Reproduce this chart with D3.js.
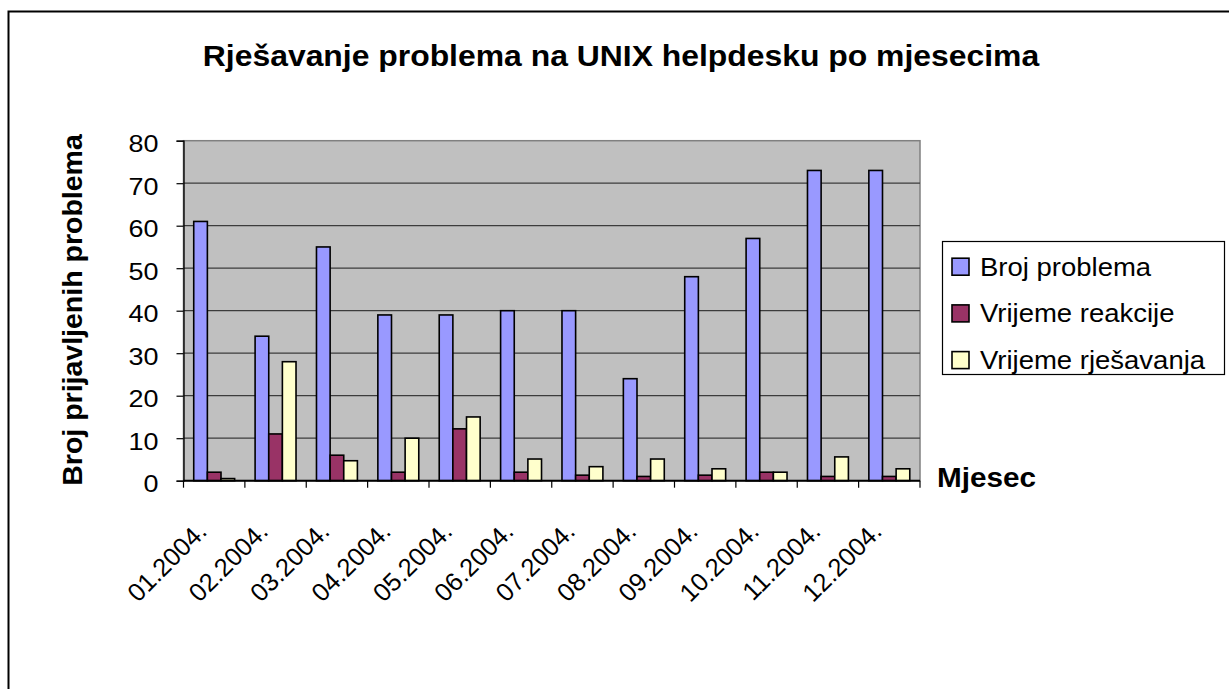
<!DOCTYPE html>
<html>
<head>
<meta charset="utf-8">
<script src="https://cdn.jsdelivr.net/npm/d3@7"></script>
<style>
  body { margin: 0; background: #fff; }
  text { font-family: "Liberation Sans", Arial, sans-serif; fill: #000; }
</style>
</head>
<body>
<svg id="chart" width="1229" height="689"></svg>
<script>
// data
var months = ["01.2004.", "02.2004.", "03.2004.", "04.2004.", "05.2004.", "06.2004.",
              "07.2004.", "08.2004.", "09.2004.", "10.2004.", "11.2004.", "12.2004."];
var seriesNames = ["Broj problema", "Vrijeme reakcije", "Vrijeme rješavanja"];
var brojProblema = [61, 34, 55, 39, 39, 40, 40, 24, 48, 57, 73, 73];
var vrijemeReakcije = [2, 11, 6, 2, 12.2, 2, 1.3, 1, 1.3, 2, 1, 1];
var vrijemeRjesavanja = [0.5, 28, 4.7, 10, 15, 5.1, 3.3, 5.1, 2.8, 2, 5.6, 2.8];
var yTicks = [0, 10, 20, 30, 40, 50, 60, 70, 80];
var colors = ["#9999ff", "#993366", "#ffffcc"];

var SX = 1.1; // text in the picture is a bit wider than Arial
var svg = d3.select("#chart");

// outer chart frame
svg.append("rect").attr("x", 8.5).attr("y", 11.5).attr("width", 1240).attr("height", 700)
   .attr("fill", "#fff").attr("stroke", "#000").attr("stroke-width", 2);

var plot = {left: 183.5, right: 920, top: 140.7, bottom: 480.7};

var x = d3.scaleBand().domain(months).range([plot.left, plot.right]).paddingInner(0).paddingOuter(0);
var xs = d3.scaleBand().domain(seriesNames).range([0, x.bandwidth()]).paddingInner(0).paddingOuter(0.75);
var y = d3.scaleLinear().domain([0, 80]).range([plot.bottom, plot.top]);

// plot background
svg.append("rect").attr("x", plot.left).attr("y", plot.top)
   .attr("width", plot.right - plot.left).attr("height", plot.bottom - plot.top)
   .attr("fill", "#c0c0c0").attr("stroke", "#808080").attr("stroke-width", 1.5);

// gridlines
svg.append("g").selectAll("line").data(yTicks.filter(function(d){ return d > 0 && d < 80; }))
   .enter().append("line")
   .attr("x1", plot.left).attr("x2", plot.right)
   .attr("y1", function(d){ return y(d); }).attr("y2", function(d){ return y(d); })
   .attr("stroke", "#3c3c3c").attr("stroke-width", 1.3);

// bars
var table = months.map(function(m, i){
    return {month: m, values: [brojProblema[i], vrijemeReakcije[i], vrijemeRjesavanja[i]]};
});
var groups = svg.append("g").selectAll("g").data(table).enter().append("g")
   .attr("transform", function(d){ return "translate(" + x(d.month) + ",0)"; });
groups.selectAll("rect").data(function(d){
        return d.values.map(function(v, j){ return {name: seriesNames[j], value: v, j: j}; });
    })
   .enter().append("rect")
   .attr("x", function(d){ return xs(d.name); })
   .attr("width", xs.bandwidth())
   .attr("y", function(d){ return y(d.value); })
   .attr("height", function(d){ return y(0) - y(d.value); })
   .attr("fill", function(d){ return colors[d.j]; })
   .attr("stroke", "#000").attr("stroke-width", 1.6);

// y axis
var yAxis = svg.append("g").attr("transform", "translate(" + plot.left + ",0)")
   .call(d3.axisLeft(y).tickValues(yTicks).tickSize(7).tickPadding(0));
yAxis.select(".domain").attr("stroke", "#000").attr("stroke-width", 1.3);
yAxis.selectAll(".tick line").attr("stroke", "#000").attr("stroke-width", 1.2);
yAxis.selectAll(".tick text").remove();
yAxis.selectAll(".tick").append("text")
   .attr("transform", "translate(-25,0) scale(" + SX + ",1)")
   .attr("dy", "0.46em")
   .attr("text-anchor", "end")
   .style("font-size", "24.5px")
   .text(function(d){ return d; });

// x axis
var xAxis = svg.append("g").attr("transform", "translate(0," + plot.bottom + ")");
xAxis.append("line").attr("x1", plot.left).attr("x2", plot.right)
   .attr("stroke", "#000").attr("stroke-width", 2);
var bounds = months.map(function(m){ return x(m); }).concat([plot.right]);
xAxis.selectAll("line.tk").data(bounds).enter().append("line").attr("class", "tk")
   .attr("x1", function(d){ return d; }).attr("x2", function(d){ return d; })
   .attr("y1", 0).attr("y2", 7)
   .attr("stroke", "#000").attr("stroke-width", 1.2);
svg.append("g").selectAll("text").data(months).enter().append("text")
   .attr("transform", function(d){
       return "translate(" + (x(d) + x.bandwidth() / 2 - 6) + ",533) rotate(-45)";
   })
   .attr("text-anchor", "end")
   .style("font-size", "25.5px")
   .text(function(d){ return d; });

// titles
svg.append("text").attr("transform", "translate(621,66) scale(" + SX + ",1)")
   .attr("text-anchor", "middle").style("font-size", "29px").style("font-weight", "bold")
   .text("Rješavanje problema na UNIX helpdesku po mjesecima");
svg.append("text").attr("transform", "translate(82,310) rotate(-90)")
   .attr("text-anchor", "middle").style("font-size", "28.5px").style("font-weight", "bold")
   .text("Broj prijavljenih problema");
svg.append("text").attr("transform", "translate(937,487) scale(" + SX + ",1)")
   .style("font-size", "27px").style("font-weight", "bold")
   .text("Mjesec");

// legend
var legend = svg.append("g").attr("transform", "translate(942,241)");
legend.append("rect").attr("x", 0.5).attr("y", 0.5).attr("width", 282).attr("height", 133)
   .attr("fill", "#fff").attr("stroke", "#000").attr("stroke-width", 1.2);
var items = legend.selectAll("g.item").data(seriesNames).enter().append("g").attr("class", "item")
   .attr("transform", function(d, i){ return "translate(0," + (25.7 + i * 46.7) + ")"; });
items.append("rect").attr("x", 10).attr("y", -8.5).attr("width", 17).attr("height", 17)
   .attr("fill", function(d, i){ return colors[i]; })
   .attr("stroke", "#000").attr("stroke-width", 1.6);
items.append("text")
   .attr("transform", "translate(38,0) scale(" + SX + ",1)")
   .attr("dy", "0.36em")
   .style("font-size", "25px")
   .text(function(d){ return d; });
</script>
</body>
</html>
